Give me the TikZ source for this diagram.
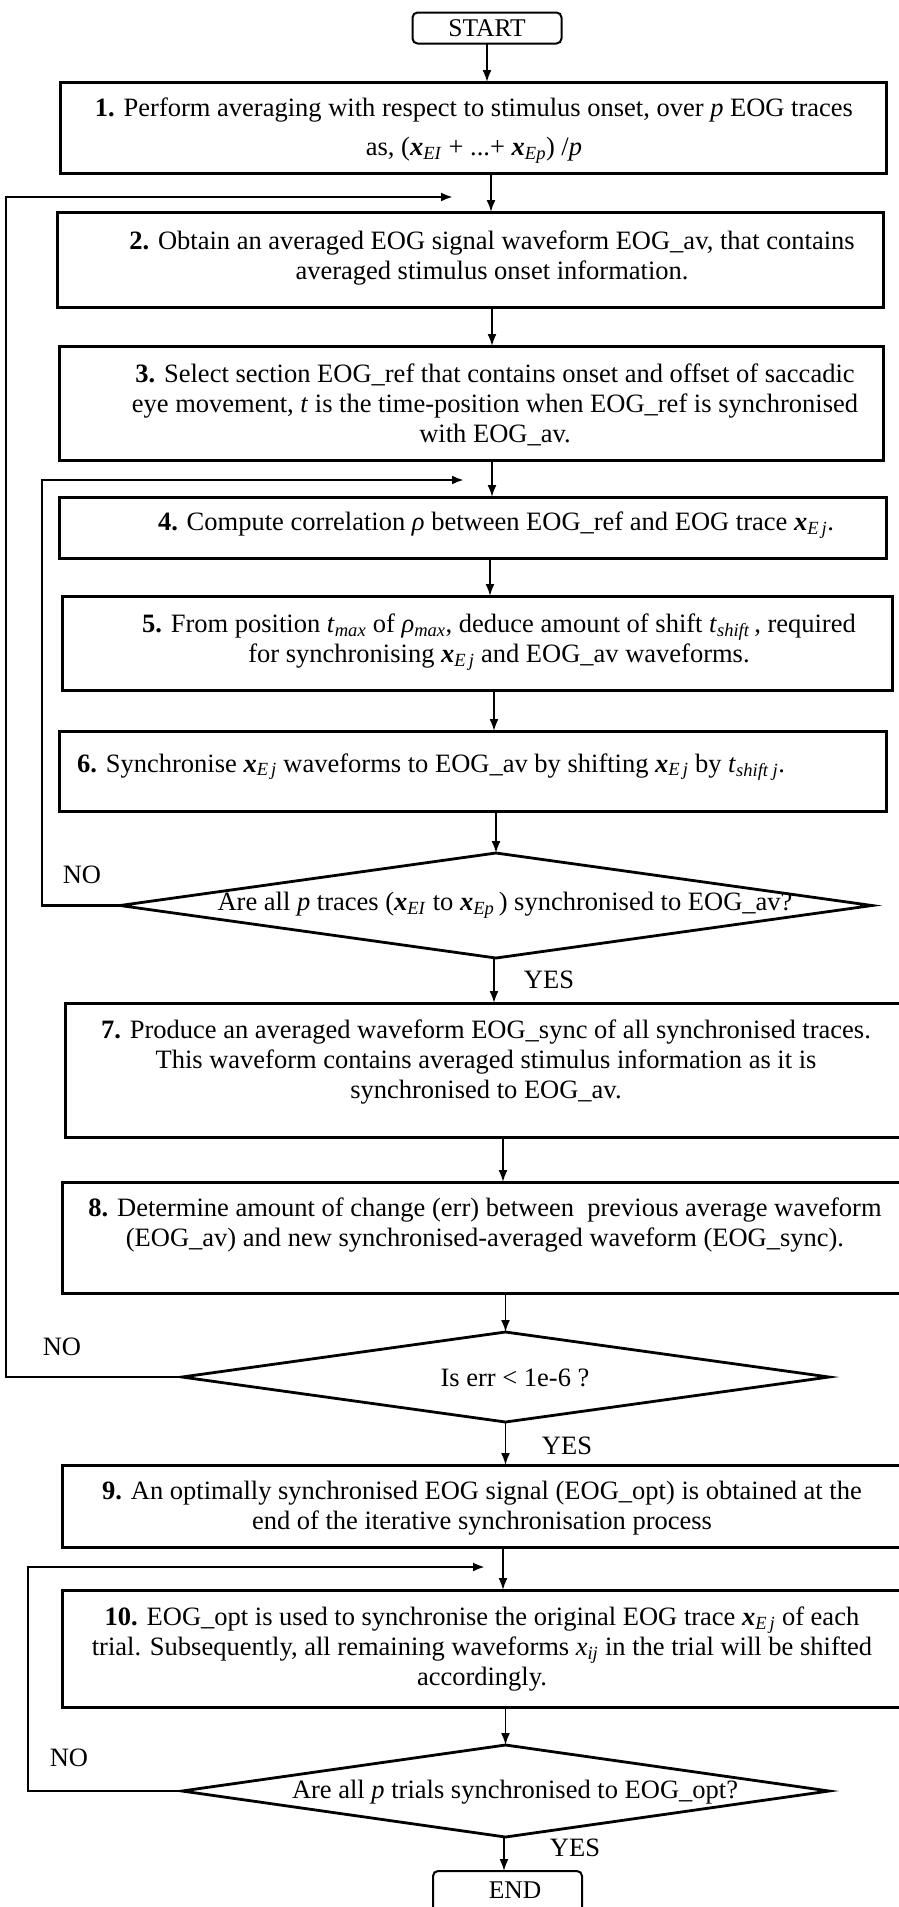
\documentclass[tikz,border=0pt]{standalone}
\usepackage{fontspec}
\setmainfont{Liberation Serif}
\usetikzlibrary{shapes.geometric,arrows.meta}

% bold italic trace variable with italic subscript
\newcommand{\xb}[1]{\textbf{\textit{x}}\textsubscript{\textit{#1}}}
\newcommand{\sub}[2]{\textit{#1}\textsubscript{\textit{#2}}}

\tikzset{
  procbox/.style={draw, line width=3pt, minimum width=#1, inner sep=0pt, outer sep=0pt},
  termbox/.style={draw, line width=2pt, rounded corners=5pt, inner sep=0pt, outer sep=0pt,
                  minimum width=149pt, font=\fontsize{25.5}{30}\selectfont},
  decision/.style={draw, diamond, line width=2.8pt, inner sep=0pt, outer sep=0pt},
  txt/.style={align=center, inner sep=0pt, font=\fontsize{26.5}{30}\selectfont},
  lbl/.style={inner sep=0pt, font=\fontsize{26.5}{30}\selectfont},
  arr/.style={line width=1.9pt, -{Latex[length=12pt,width=9pt]}},
  looparr/.style={line width=2.4pt, -{Latex[length=12pt,width=9pt]}},
}

\begin{document}
\begin{tikzpicture}[x=1pt,y=-1pt]
\useasboundingbox (0,0) rectangle (898,1907);

% ---- terminals ----
\node[termbox, minimum height=31pt] (start) at (487,28) {START};
\node[termbox, minimum height=42pt, anchor=north] (end) at (507.5,1871) {};
\node[lbl, font=\fontsize{25.5}{30}\selectfont] (endtxt) at (515,1890) {END};

% ---- process boxes ----
\node[procbox=826pt, minimum height=91pt]  (b1)  at (473,127.5) {};
\node[procbox=826pt, minimum height=95pt]  (b2)  at (470,259.5) {};
\node[procbox=824pt, minimum height=114pt] (b3)  at (471,403) {};
\node[procbox=827pt, minimum height=61pt]  (b4)  at (472.5,527.5) {};
\node[procbox=830pt, minimum height=94pt]  (b5)  at (477,643) {};
\node[procbox=827pt, minimum height=80pt]  (b6)  at (472.5,771) {};
\node[procbox=840pt, minimum height=134pt] (b7)  at (485,1070) {};
\node[procbox=843pt, minimum height=111pt] (b8)  at (483.5,1237.5) {};
\node[procbox=843pt, minimum height=82pt]  (b9)  at (483.5,1506) {};
\node[procbox=843pt, minimum height=117pt] (b10) at (483.5,1648.5) {};

% ---- decisions ----
\node[decision, minimum width=752pt, minimum height=105pt] (d1) at (496,905.5) {};
\node[decision, minimum width=647pt, minimum height=90pt]  (d2) at (505.5,1377) {};
\node[decision, minimum width=647pt, minimum height=92pt]  (d3) at (505.5,1791) {};

% ---- texts ----
\node[txt] (t1) at (474,131) {\textbf{1.} Perform averaging with respect to stimulus onset, over \textit{p} EOG traces\\[9pt]
  as, (\xb{EI} + ...+ \xb{Ep}) /\textit{p}};
\node[txt] (t2) at (492,258) {\textbf{2.} Obtain an averaged EOG signal waveform EOG\_av, that contains\\
  averaged stimulus onset information.};
\node[txt] (t3) at (495,405) {\textbf{3.} Select section EOG\_ref that contains onset and offset of saccadic\\
  eye movement, \textit{t} is the time-position when EOG\_ref is synchronised\\
  with EOG\_av.};
\node[txt] (t4) at (496,525) {\textbf{4.} Compute correlation \textit{ρ} between EOG\_ref and EOG trace \xb{E\,j}.};
\node[txt] (t5) at (499,642) {\textbf{5.} From position \sub{t}{max} of \sub{ρ}{max}, deduce amount of shift \sub{t}{shift}\,, required\\
  for synchronising \xb{E\,j} and EOG\_av waveforms.};
\node[txt, anchor=west] (t6) at (77,767) {\textbf{6.} Synchronise \xb{E\,j} waveforms to EOG\_av by shifting \xb{E\,j} by \sub{t}{shift j}.};
\node[txt] (td1) at (505,905) {Are all \textit{p} traces (\xb{EI} to \xb{Ep}\,) synchronised to EOG\_av?};
\node[txt] (t7) at (486,1062) {\textbf{7.} Produce an averaged waveform EOG\_sync of all synchronised traces.\\
  This waveform contains averaged stimulus information as it is\\
  synchronised to EOG\_av.};
\node[txt] (t8) at (485,1225) {\textbf{8.} Determine amount of change (err) between\ \ previous average waveform\\
  (EOG\_av) and new synchronised-averaged waveform (EOG\_sync).};
\node[txt] (td2) at (515,1378) {Is err < 1e-6 ?};
\node[txt] (t9) at (482,1508) {\textbf{9.} An optimally synchronised EOG signal (EOG\_opt) is obtained at the\\
  end of the iterative synchronisation process};
\node[txt] (t10) at (482,1649) {\textbf{10.} EOG\_opt is used to synchronise the original EOG trace \xb{E\,j} of each\\
  trial. Subsequently, all remaining waveforms \sub{x}{ij} in the trial will be shifted\\
  accordingly.};
\node[txt] (td3) at (515,1792) {Are all \textit{p} trials synchronised to EOG\_opt?};

% ---- branch labels ----
\node[lbl] (no1)  at (82,875)   {NO};
\node[lbl] (no2)  at (62,1347)  {NO};
\node[lbl] (no3)  at (69,1758)  {NO};
\node[lbl] (yes1) at (549,980)  {YES};
\node[lbl] (yes2) at (567,1446) {YES};
\node[lbl] (yes3) at (575,1848) {YES};

% ---- loop return points ----
\coordinate (m1) at (453,197);
\coordinate (o1) at (6,197);
\coordinate (m2) at (464,480);
\coordinate (o2) at (42,480);
\coordinate (m3) at (485,1567);
\coordinate (o3) at (28,1567);

% ---- main flow ----
\draw[arr] (start.south) -- (start.south |- b1.north);
\draw[arr] ([xshift=18pt]b1.south) -- ([xshift=18pt]b1.south |- b2.north);
\draw[arr] ([xshift=22pt]b2.south) -- ([xshift=22pt]b2.south |- b3.north);
\draw[arr] ([xshift=21pt]b3.south) -- ([xshift=21pt]b3.south |- b4.north);
\draw[arr] ([xshift=17.5pt]b4.south) -- ([xshift=17.5pt]b4.south |- b5.north);
\draw[arr] ([xshift=17pt]b5.south) -- ([xshift=17pt]b5.south |- b6.north);
\draw[arr] (d1.north |- b6.south) -- (d1.north);
\draw[arr] ([xshift=-2pt]d1.south) -- ([xshift=-2pt]d1.south |- b7.north);
\draw[arr] ([xshift=18pt]b7.south) -- ([xshift=18pt]b7.south |- b8.north);
\draw[arr] (d2.north |- b8.south) -- (d2.north);
\draw[arr] (d2.south) -- (d2.south |- b9.north);
\draw[arr] ([xshift=19.5pt]b9.south) -- ([xshift=19.5pt]b9.south |- b10.north);
\draw[arr] (d3.north |- b10.south) -- (d3.north);
\draw[arr] ([xshift=-1.5pt]d3.south) -- ([xshift=-1.5pt]d3.south |- end.north);

% ---- NO branches ----
\draw[looparr] (d1.west) -| (o2) -- (m2);
\draw[looparr] (d2.west) -| (o1) -- (m1);
\draw[looparr] (d3.west) -| (o3) -- (m3);

\end{tikzpicture}
\end{document}
